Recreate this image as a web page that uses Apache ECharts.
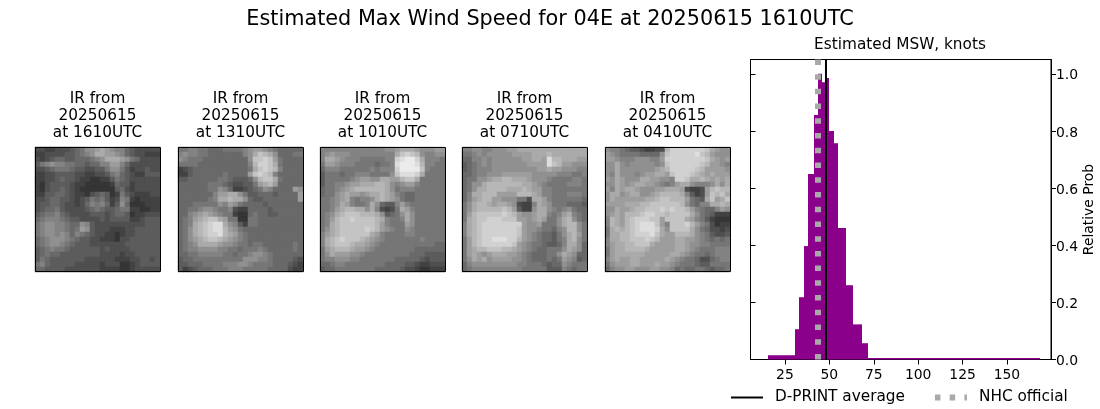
<!DOCTYPE html>
<html>
<head>
<meta charset="utf-8">
<style>html,body{margin:0;padding:0;background:#fff}#chart{width:1100px;height:409px}</style>
<script src="https://cdn.jsdelivr.net/npm/echarts@6/dist/echarts.min.js"></script>
</head>
<body>
<div id="chart"></div>
<script>
var panelTimes = ['1610UTC', '1310UTC', '1010UTC', '0710UTC', '0410UTC'];
var panelDate = '20250615';

// grey levels, one hex digit per cell
var ir1610 = [
	'3322333456889a98775433333','223333445678aa99875433222','32345544555678aaa98653333',
	'4678776655455779975333333','3345666544334468864233433','2233444433223346754322444',
	'2233454432211224654333333','2134444322111112544233333','2134454321111111453233333',
	'2244554322134541264322233','3345544323465642376212222','3445543323576752485111222',
	'3455643333456544566221122','4566754333344434554122333','5677765443333434444223444',
	'6788776558743333333333444','6788776569843332223344444','6788787576543322123344444',
	'5678887654433222133444444','5678876544433333334444444','4567665444444343333444444',
	'4565544444444333323344444','4654444444333333222334434','6754444433333233311234444',
	'5544443333333222211233333'
];
var ir1310 = [
	'6677665556666789987655555','787766555555578acba855566',
	'876665555555558ccdc965555','666655555555557bddca65555',
	'234555555555556acdcb75555','224555555655559cdcb755555',
	'4455555566544458bcca65555','55555566654334469ab955555',
	'5555556687522345687555598','5555555799aa8644555455559','55555567aabaa854455555559',
	'5556666687986555545555555','5566788766732255554555555','55789a9876621156554455555',
	'5679abcca9661166555555555','567abcdeea874266555555555','568abcdeeb986555555555555',
	'568abcddeba97655555555555','5689abccba987655555555555','5678aaaa98876656655555565',
	'5677888877665666765555565','5566777776656678876555555','4556666666666888776555543',
	'4455566667778876666555432','4234555666777666665555322'
];
var ir1010 = [
	'7777777777777889aaa988899','789888777777777acdcb87788',
	'7aa987776666677deffda7776','699877766665667efffeb7766',
	'577766666676777dffffc7666','466656677766668ceeeda6666',
	'466666789988aa99bcca66666','46677899aaabba87899766666',
	'566789abbbbbba86777666666','56689a9989aaba97655666666',
	'66789a76778aba98655666666','6678a97667a85447976666666',
	'6679abbaa8a73236a97666666','678abcccbbba84568a8666666',
	'679bccdccccba7667a8666666','67abcccccccb9766698666666',
	'68abcccccdcb9876687666666','79abcccccca97666677666666',
	'7abcdcccba987666666676666','7abcccbaa9876666666666655','69abbba998766666666555555',
	'68a9998876666666665554444','6778887766666665555543444','5567766666666555544322333',
	'4556666666655555433211222'
];
var ir0710 = [
	'77887788899aaaaaaaaaaaaaa','66787888889999aaabaaaaaaa',
	'55778788888899aa9ebbaaa99','45678788888889999ecb99888',
	'45677788888888899a9988877','5567788899999988888777667',
	'566889aabbaaa988876666776','5688abbbbbbbaa98766667776',
	'568aabbbbaaaba99776666666','57aabbb9999bbba9776667776',
	'579abb99888663aa976666665','68abba9aa983227a986665554',
	'68abbbbbcb94228aa87678655','69bcccccdcb9889aa7679a765',
	'6abccdddccc9989a9668ab865','7abcdddddddd98896668abb86',
	'7abcdddddddc988766578bb86','7abcdddddddc987655468ab96',
	'69bcddeeeddb987655467ab86','69bcddddddc9876654457aa85',
	'69abbcccbba9876556668a985','69a989aaa99876555668a9855',
	'68a9a89999887655565698745','5788888888877666545587666',
	'5677777777776666644476566'
];
var ir0410 = [
	'877654432233bdddddddca988','987666655558cdddddecb9888',
	'998777888779ddddddddca989','88a878888878cddddddcb9987',
	'88a88888889abdddddcb99998','87a8887899aa9cdddcba9a999',
	'98a9888aa99887ddcaaba9a9a','88a989aa9987679aa87778a8a',
	'97a9aa988899aaa932239bcbb','8aa89aa889abbbba74239cbca',
	'8a999999aabccbbb9654ac9ac','9999aaabbccccccb86577aaba',
	'88a99abbcccdcdccb97655798','89a9bbbcddccbcccca8654222',
	'7ba9bcdddcc9cccca97642111','7ba9bcdeeec97cccdb9763122',
	'6ababcdeeeda8cccca8653323','6aabbcdddeca99bbba8764334',
	'7aabbcccdcb999aa998765656','79aabbccca9999aa988776666',
	'69aabbbba99999aa987666777','69aaaaaa99999aa9876656777',
	'79a99aa99999a987665335677','68999aa999a99876665446666',
	'5788998889988756556654556'
];
var panelRows = [ir1610, ir1310, ir1010, ir0710, ir0410];

var binEdges = [15.4, 30.6, 33.1, 35.7, 38, 41.3, 43.6, 45.8, 48.1, 49.8, 52.6, 54.8, 59.3, 63.3, 68.4, 71.7, 168.6];
var binHeights = [0.015, 0.106, 0.218, 0.397, 0.649, 0.856, 1.0, 0.97, 0.985, 0.80, 0.757, 0.46, 0.26, 0.123, 0.057, 0.005];
var xTicks = [25, 50, 75, 100, 125, 150];
var yTicks = [0, 0.2, 0.4, 0.6, 0.8, 1.0];
var dprintAverage = 48.1;
var nhcOfficial = 43.6;

var panelLeft = [35, 178, 320, 462, 605];
var panelTop = 147;
var fontName = '"DejaVu Sans"';

var cells = [];
for (var i = 0; i < 25; i++) { cells.push(i); }

var grids = [], xAxes = [], yAxes = [], series = [], titles = [], frames = [];

titles.push({
	text: 'Estimated Max Wind Speed for 04E at 20250615 1610UTC',
	left: 550, top: 9, padding: 0, textAlign: 'center',
	textStyle: {fontFamily: fontName, fontSize: 20.8, fontWeight: 'normal', color: '#000'}
});
titles.push({
	text: 'Estimated MSW, knots',
	left: 900, top: 38, padding: 0, textAlign: 'center',
	textStyle: {fontFamily: fontName, fontSize: 15.3, fontWeight: 'normal', color: '#000'}
});

panelRows.forEach(function (rows, p) {
	grids.push({left: panelLeft[p], top: panelTop, width: 125, height: 125});
	xAxes.push({type: 'category', gridIndex: p, data: cells, show: false});
	yAxes.push({type: 'category', gridIndex: p, data: cells, inverse: true, show: false});
	var data = [];
	rows.forEach(function (row, r) {
		for (var c = 0; c < row.length; c++) {
			data.push([c, r, parseInt(row.charAt(c), 16)]);
		}
	});
	series.push({
		type: 'heatmap', xAxisIndex: p, yAxisIndex: p, data: data,
		silent: true, animation: false,
		itemStyle: {borderWidth: 0}
	});
	titles.push({
		text: 'IR from\n' + panelDate + '\nat ' + panelTimes[p],
		left: panelLeft[p] + 62.5, top: 91, padding: 0, textAlign: 'center',
		textStyle: {fontFamily: fontName, fontSize: 15.3, lineHeight: 17, fontWeight: 'normal', color: '#000'}
	});
	frames.push({
		type: 'rect', z: 100, silent: true,
		shape: {x: panelLeft[p] + 0.5, y: panelTop + 0.5, width: 125, height: 124},
		style: {fill: 'none', stroke: '#000', lineWidth: 1}
	});
});

// histogram panel
var histIndex = panelRows.length;
grids.push({left: 750.5, top: 59.5, width: 300.5, height: 300, show: true, borderColor: '#000', borderWidth: 1, backgroundColor: 'transparent'});
xAxes.push({
	type: 'value', gridIndex: histIndex, min: 5.6, max: 174.8,
	splitLine: {show: false},
	axisLine: {lineStyle: {color: '#000', width: 1}},
	axisTick: {show: true, length: 5, customValues: xTicks, lineStyle: {color: '#000'}},
	axisLabel: {customValues: xTicks, fontFamily: fontName, fontSize: 13.9, color: '#000', margin: 9}
});
yAxes.push({
	type: 'value', gridIndex: histIndex, position: 'right', min: 0, max: 1.05,
	name: 'Relative Prob', nameLocation: 'middle', nameRotate: 90, nameGap: 31,
	nameTextStyle: {fontFamily: fontName, fontSize: 13.9, color: '#000'},
	splitLine: {show: false},
	axisLine: {show: true, lineStyle: {color: '#000', width: 1}},
	axisTick: {show: true, length: 5, customValues: yTicks, lineStyle: {color: '#000'}},
	axisLabel: {
		customValues: yTicks, color: '#000', margin: 5,
		formatter: function (v) { return '{t|' + v.toFixed(1) + '}'; },
		rich: {t: {fontFamily: fontName, fontSize: 13.9, color: '#000', padding: [4, 0, 0, 0]}}
	}
});
yAxes.push({
	type: 'value', gridIndex: histIndex, position: 'left', min: 0, max: 1.05,
	splitLine: {show: false},
	axisLine: {show: true, lineStyle: {color: '#000', width: 1}},
	axisTick: {show: true, inside: true, length: 5, customValues: yTicks, lineStyle: {color: '#000'}},
	axisLabel: {show: false}
});

var histData = binHeights.map(function (h, b) {
	return [binEdges[b], binEdges[b + 1], h];
});
series.push({
	type: 'custom', name: 'hist', xAxisIndex: histIndex, yAxisIndex: histIndex,
	data: histData, silent: true, animation: false, z: 2,
	encode: {x: [0, 1], y: 2},
	renderItem: function (params, api) {
		var p0 = api.coord([api.value(0), api.value(2)]);
		var p1 = api.coord([api.value(1), 0]);
		var x0 = Math.round(p0[0]), x1 = Math.round(p1[0]);
		return {
			type: 'rect',
			shape: {x: x0, y: p0[1], width: x1 - x0, height: p1[1] - p0[1]},
			style: {fill: '#8b008b'}
		};
	}
});
series.push({
	type: 'line', name: 'D-PRINT average', xAxisIndex: histIndex, yAxisIndex: histIndex,
	data: [[dprintAverage, 0], [dprintAverage, 1.05]], symbol: 'none', silent: true, animation: false, z: 3,
	lineStyle: {color: '#000', width: 2}
});
series.push({
	type: 'line', name: 'NHC official', xAxisIndex: histIndex, yAxisIndex: histIndex,
	data: [[nhcOfficial, 0], [nhcOfficial, 1.05]], symbol: 'none', silent: true, animation: false, z: 4,
	lineStyle: {color: '#a9a9a9', width: 6, type: [5.5, 9.23]}
});

var chart = echarts.init(document.getElementById('chart'), null, {renderer: 'canvas'});
chart.setOption({
	backgroundColor: '#fff',
	animation: false,
	title: titles,
	grid: grids,
	xAxis: xAxes,
	yAxis: yAxes,
	series: series,
	graphic: frames,
	visualMap: {
		show: false, type: 'continuous', min: 0, max: 15, seriesIndex: [0, 1, 2, 3, 4],
		inRange: {color: ['#282828', '#ebebeb']}
	},
	legend: {
		left: 725, top: 385, itemWidth: 32, itemHeight: 10, itemGap: 27,
		itemStyle: {opacity: 0},
		data: [
			{name: 'D-PRINT average', lineStyle: {width: 2}},
			{name: 'NHC official', lineStyle: {width: 6}}
		],
		textStyle: {fontFamily: fontName, fontSize: 15.3, color: '#000', padding: [0, 0, 0, 7]}
	}
});
</script>
</body>
</html>
